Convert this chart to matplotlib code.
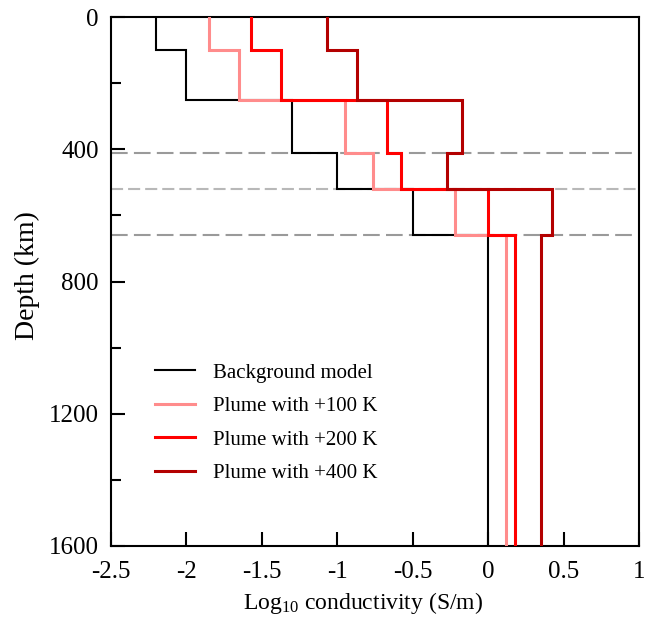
import numpy as np
import matplotlib
matplotlib.use("Agg")
import matplotlib.pyplot as plt
from matplotlib.ticker import MultipleLocator

plt.rcParams['font.family'] = ['Liberation Serif', 'DejaVu Serif']
plt.rcParams['mathtext.fontset'] = 'custom'
plt.rcParams['mathtext.rm'] = 'Liberation Serif'
plt.rcParams['mathtext.it'] = 'Liberation Serif:italic'

# Layer boundaries (km)
depth_bounds = [0, 100, 250, 410, 520, 660, 1600]

# Log10 conductivity per layer
background = [-2.2, -2.0, -1.3, -1.0, -0.5, 0.0]
plume_100 = [-1.85, -1.65, -0.95, -0.76, -0.22, 0.12]
plume_200 = [-1.57, -1.37, -0.67, -0.58, 0.0, 0.18]
plume_400 = [-1.07, -0.87, -0.17, -0.27, 0.42, 0.35]

labels = ["Background model", "Plume with +100 K", "Plume with +200 K", "Plume with +400 K"]
colors = ["#000000", "#ff8c8c", "#ff0000", "#b30000"]
widths = [1.5, 2.2, 2.2, 2.2]

discontinuities = [410, 520, 660]
disc_colors = ["#9a9a9a", "#b8b8b8", "#9a9a9a"]
disc_dashes = [(8.0, 3.0), (5.8, 2.4), (8.0, 3.0)]

xtick_vals = [-2.5, -2, -1.5, -1, -0.5, 0, 0.5, 1]
xtick_labels = ["-2.5", "-2", "-1.5", "-1", "-0.5", "0", "0.5", "1"]

fig = plt.figure(figsize=(6.57, 6.18), dpi=100)
ax = fig.add_axes([111/657, 1-546/618, (639-111)/657, (546-17)/618])

for d, c, ds in zip(discontinuities, disc_colors, disc_dashes):
    ax.axhline(d, color=c, lw=1.5, linestyle=(0, ds), zorder=1)

def profile(vals, bounds):
    y = np.repeat(bounds, 2)[1:-1]
    x = np.repeat(vals, 2)
    return x, y

for vals, lab, c, w in zip([background, plume_100, plume_200, plume_400], labels, colors, widths):
    x, y = profile(vals, depth_bounds)
    ax.plot(x, y, color=c, lw=w, label=lab, zorder=3, solid_joinstyle='miter')

ax.set_xlim(-2.5, 1)
ax.set_ylim(1600, 0)
ax.yaxis.set_major_locator(MultipleLocator(400))
ax.yaxis.set_minor_locator(MultipleLocator(200))
ax.set_xticks(xtick_vals)
ax.set_xticklabels(xtick_labels)

ax.tick_params(which='major', direction='in', length=10, width=1.5, labelsize=18, top=False, right=False)
ax.tick_params(axis='x', which='major', pad=11)
ax.tick_params(axis='y', which='major', pad=9)
ax.tick_params(which='minor', direction='in', length=7, width=1.5, top=False, right=False)
for s in ax.spines.values():
    s.set_linewidth(1.5)

ax.set_xlabel("Log$_{10}$ conductivity (S/m)", fontsize=17, labelpad=5)
ax.xaxis.label.set_x((363-111)/528)
ax.set_ylabel("Depth (km)", fontsize=20, labelpad=6)
ax.yaxis.label.set_y((546-276)/529)

leg = ax.legend(loc='upper left', bbox_to_anchor=((155-111)/528, (546-363)/529),
                frameon=False, fontsize=15, handlelength=1.92, handletextpad=0.87,
                labelspacing=0.67, borderpad=0, borderaxespad=0)

fig.savefig("out.png", dpi=100)
